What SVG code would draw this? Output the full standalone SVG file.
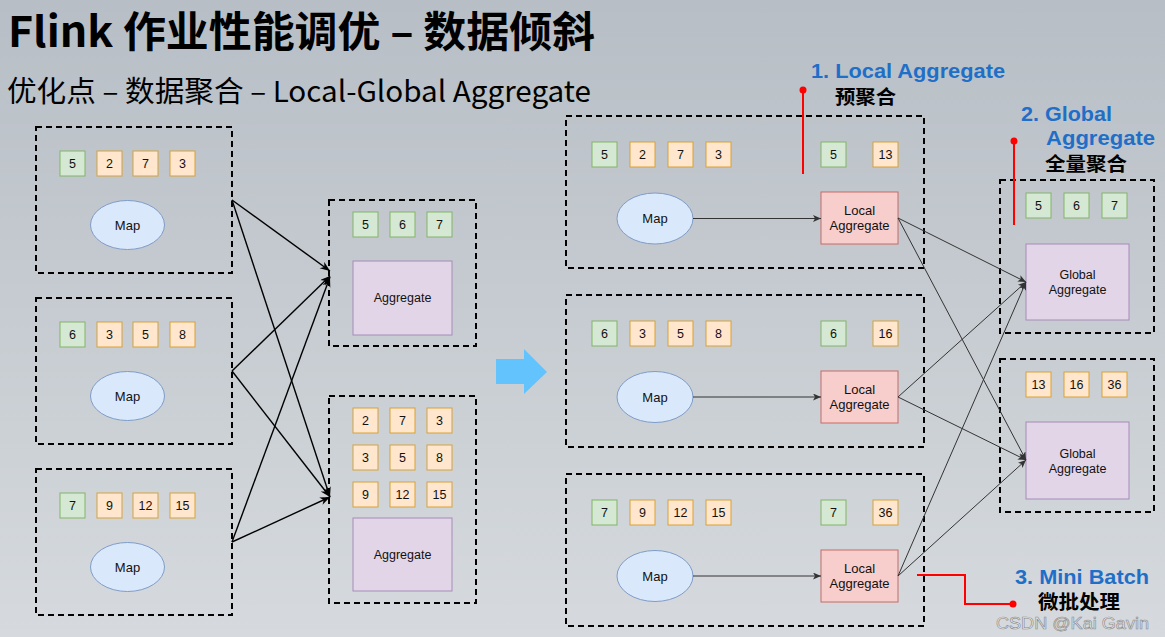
<svg xmlns="http://www.w3.org/2000/svg" width="1165" height="637" viewBox="0 0 1165 637">
<defs>
<linearGradient id="bg" x1="0" y1="0" x2="0" y2="1">
<stop offset="0" stop-color="#b7bec5"/>
<stop offset="1" stop-color="#d6dade"/>
</linearGradient>
<marker id="ah" markerWidth="12" markerHeight="10" refX="10" refY="4" orient="auto" markerUnits="userSpaceOnUse">
<path d="M0,0 L10,4 L0,8 L3,4 z" fill="#000"/>
</marker>
<marker id="ah2" markerWidth="10" markerHeight="8" refX="8" refY="3.5" orient="auto" markerUnits="userSpaceOnUse">
<path d="M0,0 L8,3.5 L0,7 L2,3.5 z" fill="#333"/>
</marker>
<style>
.box{fill:none;stroke:#000;stroke-width:2;stroke-dasharray:6 4}
.sg{fill:#d5e8d4;stroke:#82b366;stroke-width:1}
.so{fill:#ffe6cc;stroke:#d6a23c;stroke-width:1}
.map{fill:#dae8fc;stroke:#7f9cc8;stroke-width:1}
.agg{fill:#e1d5e7;stroke:#a68bb8;stroke-width:1}
.loc{fill:#f8cecc;stroke:#c86a66;stroke-width:1}
.t{font-family:"Liberation Sans",Arial,sans-serif;font-size:12.5px;fill:#111;text-anchor:middle}
.tm{font-family:"Liberation Sans",Arial,sans-serif;font-size:13px;fill:#111;text-anchor:middle}
.e1{fill:none;stroke:#000;stroke-width:1.4;marker-end:url(#ah)}
.e2{fill:none;stroke:#333;stroke-width:1;marker-end:url(#ah2)}
.red{fill:none;stroke:#ff0000;stroke-width:2}
.blue{font-family:"Liberation Sans",Arial,sans-serif;font-weight:bold;font-size:21px;fill:#1f6fc8}
.cn{font-family:"Noto Sans CJK SC",sans-serif;font-weight:bold;font-size:19px;fill:#000}
</style>
</defs>
<rect x="0" y="0" width="1165" height="637" fill="url(#bg)"/>

<text x="8" y="47" font-family="'Noto Sans CJK SC',sans-serif" font-weight="bold" font-size="42" fill="#000" textLength="587" lengthAdjust="spacingAndGlyphs">Flink 作业性能调优 – 数据倾斜</text>
<text x="7" y="102" font-family="'Noto Sans CJK SC',sans-serif" font-size="29" fill="#000" textLength="584" lengthAdjust="spacingAndGlyphs">优化点 – 数据聚合 – Local-Global Aggregate</text>

<!-- Left map boxes -->
<g id="lmap1">
<rect class="box" x="36" y="127" width="196" height="146"/>
<rect class="sg" x="60" y="151" width="25" height="25"/><text class="t" x="72.5" y="168">5</text>
<rect class="so" x="97" y="151" width="25" height="25"/><text class="t" x="109.5" y="168">2</text>
<rect class="so" x="133" y="151" width="25" height="25"/><text class="t" x="145.5" y="168">7</text>
<rect class="so" x="170" y="151" width="25" height="25"/><text class="t" x="182.5" y="168">3</text>
<ellipse class="map" cx="127.5" cy="225" rx="37" ry="24.5"/><text class="tm" x="127.5" y="229.5">Map</text>
</g>
<g id="lmap2">
<rect class="box" x="36" y="298" width="196" height="146"/>
<rect class="sg" x="60" y="322" width="25" height="25"/><text class="t" x="72.5" y="339">6</text>
<rect class="so" x="97" y="322" width="25" height="25"/><text class="t" x="109.5" y="339">3</text>
<rect class="so" x="133" y="322" width="25" height="25"/><text class="t" x="145.5" y="339">5</text>
<rect class="so" x="170" y="322" width="25" height="25"/><text class="t" x="182.5" y="339">8</text>
<ellipse class="map" cx="127.5" cy="396" rx="37" ry="24.5"/><text class="tm" x="127.5" y="400.5">Map</text>
</g>
<g id="lmap3">
<rect class="box" x="36" y="469" width="196" height="146"/>
<rect class="sg" x="60" y="493" width="25" height="25"/><text class="t" x="72.5" y="510">7</text>
<rect class="so" x="97" y="493" width="25" height="25"/><text class="t" x="109.5" y="510">9</text>
<rect class="so" x="133" y="493" width="25" height="25"/><text class="t" x="145.5" y="510">12</text>
<rect class="so" x="170" y="493" width="25" height="25"/><text class="t" x="182.5" y="510">15</text>
<ellipse class="map" cx="127.5" cy="567" rx="37" ry="24.5"/><text class="tm" x="127.5" y="571.5">Map</text>
</g>

<!-- Middle aggregate boxes -->
<g id="aggA">
<rect class="box" x="329" y="200" width="147" height="146"/>
<rect class="sg" x="353" y="212" width="25" height="25"/><text class="t" x="365.5" y="229">5</text>
<rect class="sg" x="390" y="212" width="25" height="25"/><text class="t" x="402.5" y="229">6</text>
<rect class="sg" x="427" y="212" width="25" height="25"/><text class="t" x="439.5" y="229">7</text>
<rect class="agg" x="353" y="261" width="99" height="74"/><text class="t" x="402.5" y="302">Aggregate</text>
</g>
<g id="aggB">
<rect class="box" x="329" y="396" width="147" height="207"/>
<rect class="so" x="353" y="408" width="25" height="25"/><text class="t" x="365.5" y="425">2</text>
<rect class="so" x="390" y="408" width="25" height="25"/><text class="t" x="402.5" y="425">7</text>
<rect class="so" x="427" y="408" width="25" height="25"/><text class="t" x="439.5" y="425">3</text>
<rect class="so" x="353" y="445" width="25" height="25"/><text class="t" x="365.5" y="462">3</text>
<rect class="so" x="390" y="445" width="25" height="25"/><text class="t" x="402.5" y="462">5</text>
<rect class="so" x="427" y="445" width="25" height="25"/><text class="t" x="439.5" y="462">8</text>
<rect class="so" x="353" y="482" width="25" height="25"/><text class="t" x="365.5" y="499">9</text>
<rect class="so" x="390" y="482" width="25" height="25"/><text class="t" x="402.5" y="499">12</text>
<rect class="so" x="427" y="482" width="25" height="25"/><text class="t" x="439.5" y="499">15</text>
<rect class="agg" x="353" y="518" width="99" height="73"/><text class="t" x="402.5" y="559">Aggregate</text>
</g>

<!-- Big blue arrow -->
<g id="bigarrow">
<path d="M496,359 L524,359 L524,349 L547,372 L524,394 L524,384 L496,384 Z" fill="#63c3fd"/>
</g>

<!-- Right map boxes -->
<g id="rmap1">
<rect class="box" x="566" y="116" width="358" height="152"/>
<rect class="sg" x="592" y="142" width="25" height="25"/><text class="t" x="604.5" y="159">5</text>
<rect class="so" x="630" y="142" width="25" height="25"/><text class="t" x="642.5" y="159">2</text>
<rect class="so" x="668" y="142" width="25" height="25"/><text class="t" x="680.5" y="159">7</text>
<rect class="so" x="706" y="142" width="25" height="25"/><text class="t" x="718.5" y="159">3</text>
<rect class="sg" x="821" y="142" width="25" height="25"/><text class="t" x="833.5" y="159">5</text>
<rect class="so" x="873" y="142" width="25" height="25"/><text class="t" x="885.5" y="159">13</text>
<ellipse class="map" cx="655" cy="218.5" rx="38" ry="25.5"/><text class="tm" x="655" y="223">Map</text>
<rect class="loc" x="821" y="192" width="77" height="52"/>
<text class="tm" x="859.5" y="215">Local</text><text class="tm" x="859.5" y="230">Aggregate</text>
</g>
<g id="rmap2">
<rect class="box" x="566" y="295" width="358" height="152"/>
<rect class="sg" x="592" y="321" width="25" height="25"/><text class="t" x="604.5" y="338">6</text>
<rect class="so" x="630" y="321" width="25" height="25"/><text class="t" x="642.5" y="338">3</text>
<rect class="so" x="668" y="321" width="25" height="25"/><text class="t" x="680.5" y="338">5</text>
<rect class="so" x="706" y="321" width="25" height="25"/><text class="t" x="718.5" y="338">8</text>
<rect class="sg" x="821" y="321" width="25" height="25"/><text class="t" x="833.5" y="338">6</text>
<rect class="so" x="873" y="321" width="25" height="25"/><text class="t" x="885.5" y="338">16</text>
<ellipse class="map" cx="655" cy="397" rx="38" ry="25.5"/><text class="tm" x="655" y="401.5">Map</text>
<rect class="loc" x="821" y="371" width="77" height="52"/>
<text class="tm" x="859.5" y="394">Local</text><text class="tm" x="859.5" y="409">Aggregate</text>
</g>
<g id="rmap3">
<rect class="box" x="566" y="474" width="358" height="152"/>
<rect class="sg" x="592" y="500" width="25" height="25"/><text class="t" x="604.5" y="517">7</text>
<rect class="so" x="630" y="500" width="25" height="25"/><text class="t" x="642.5" y="517">9</text>
<rect class="so" x="668" y="500" width="25" height="25"/><text class="t" x="680.5" y="517">12</text>
<rect class="so" x="706" y="500" width="25" height="25"/><text class="t" x="718.5" y="517">15</text>
<rect class="sg" x="821" y="500" width="25" height="25"/><text class="t" x="833.5" y="517">7</text>
<rect class="so" x="873" y="500" width="25" height="25"/><text class="t" x="885.5" y="517">36</text>
<ellipse class="map" cx="655" cy="576" rx="38" ry="25.5"/><text class="tm" x="655" y="580.5">Map</text>
<rect class="loc" x="821" y="550" width="77" height="52"/>
<text class="tm" x="859.5" y="573">Local</text><text class="tm" x="859.5" y="588">Aggregate</text>
</g>

<!-- Global boxes -->
<g id="glob1">
<rect class="box" x="1000" y="180" width="154" height="153"/>
<rect class="sg" x="1026" y="193" width="25" height="25"/><text class="t" x="1038.5" y="210">5</text>
<rect class="sg" x="1064" y="193" width="25" height="25"/><text class="t" x="1076.5" y="210">6</text>
<rect class="sg" x="1102" y="193" width="25" height="25"/><text class="t" x="1114.5" y="210">7</text>
<rect class="agg" x="1026" y="244" width="103" height="76"/>
<text class="t" x="1077.5" y="278.5">Global</text><text class="t" x="1077.5" y="294">Aggregate</text>
</g>
<g id="glob2">
<rect class="box" x="1000" y="359" width="154" height="153"/>
<rect class="so" x="1026" y="372" width="25" height="25"/><text class="t" x="1038.5" y="389">13</text>
<rect class="so" x="1064" y="372" width="25" height="25"/><text class="t" x="1076.5" y="389">16</text>
<rect class="so" x="1102" y="372" width="25" height="25"/><text class="t" x="1114.5" y="389">36</text>
<rect class="agg" x="1026" y="422" width="103" height="77"/>
<text class="t" x="1077.5" y="457.5">Global</text><text class="t" x="1077.5" y="473">Aggregate</text>
</g>

<!-- Connectors -->
<g id="connectors">
<line class="e1" x1="232" y1="200" x2="330" y2="271"/>
<line class="e1" x1="232" y1="200" x2="330" y2="497"/>
<line class="e1" x1="232" y1="371" x2="330" y2="276"/>
<line class="e1" x1="232" y1="371" x2="330" y2="497"/>
<line class="e1" x1="232" y1="542" x2="330" y2="277"/>
<line class="e1" x1="232" y1="542" x2="330" y2="497"/>
<line class="e2" x1="693" y1="218.5" x2="821" y2="218.5"/>
<line class="e2" x1="693" y1="397" x2="821" y2="397"/>
<line class="e2" x1="693" y1="576" x2="821" y2="576"/>
<line class="e2" x1="898" y1="218" x2="1026" y2="282"/>
<line class="e2" x1="898" y1="218" x2="1026" y2="460"/>
<line class="e2" x1="898" y1="397" x2="1026" y2="282"/>
<line class="e2" x1="898" y1="397" x2="1026" y2="460"/>
<line class="e2" x1="898" y1="576" x2="1026" y2="282"/>
<line class="e2" x1="898" y1="576" x2="1026" y2="460"/>
</g>

<!-- Annotations -->
<g id="note1">
<line class="red" x1="803" y1="90" x2="803" y2="174"/>
<circle cx="803" cy="90" r="3.5" fill="#ff0000"/>
<text class="blue" x="811" y="78" textLength="194" lengthAdjust="spacingAndGlyphs">1. Local Aggregate</text>
<text class="cn" x="835" y="104" textLength="61" lengthAdjust="spacingAndGlyphs">预聚合</text>
</g>
<g id="note2">
<line class="red" x1="1014" y1="141" x2="1014" y2="225"/>
<circle cx="1014" cy="141" r="3.5" fill="#ff0000"/>
<text class="blue" x="1021" y="121" textLength="91" lengthAdjust="spacingAndGlyphs">2. Global</text>
<text class="blue" x="1046" y="145" textLength="109" lengthAdjust="spacingAndGlyphs">Aggregate</text>
<text class="cn" x="1045" y="171" textLength="82" lengthAdjust="spacingAndGlyphs">全量聚合</text>
</g>
<g id="note3">
<polyline class="red" points="917,575 965,575 965,604 1013,604"/>
<circle cx="1013" cy="604" r="3.5" fill="#ff0000"/>
<text class="blue" x="1015" y="584" textLength="134" lengthAdjust="spacingAndGlyphs">3. Mini Batch</text>
<text class="cn" x="1038" y="609" textLength="82" lengthAdjust="spacingAndGlyphs">微批处理</text>
</g>
<text x="996" y="629" font-family="'Liberation Sans',Arial,sans-serif" font-size="16" fill="#eeeeee" stroke="#8a8a8a" stroke-width="0.6" textLength="153" lengthAdjust="spacingAndGlyphs">CSDN @Kai Gavin</text>
</svg>
